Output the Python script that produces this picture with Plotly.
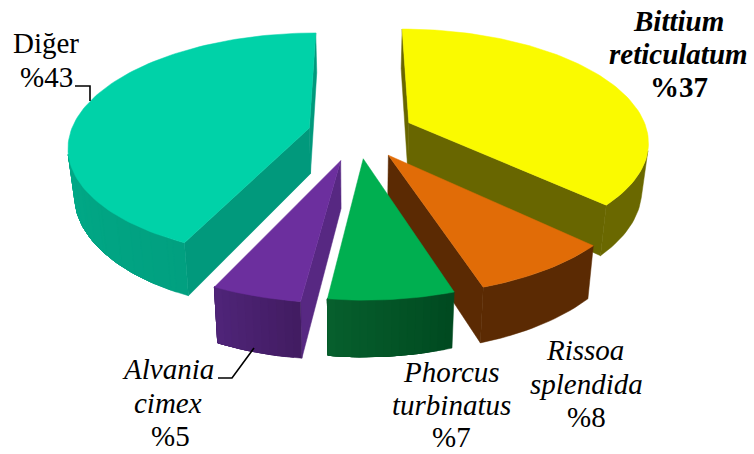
import math
import plotly.graph_objects as go

# ---- data ----
categories = ["Bittium reticulatum", "Rissoa splendida", "Phorcus turbinatus", "Alvania cimex", "Diğer"]
values = [37, 8, 7, 5, 43]

# ---- styling ----
top_colors = ["#FAFA00", "#E16C07", "#00AF50", "#6C2F9E", "#00D2A8"]
cut_colors = ["#686600", "#5B2A03", "#07602E", "#572882", "#01997C"]
rim_start = ["#6A6800", "#5B2A03", "#004A20", "#421C62", "#01A080"]
rim_end = ["#6A6800", "#5B2A03", "#07602E", "#50257A", "#02BC95"]
explode = [0.235, 0.23, 0.225, 0.25, 0.21]
draw_order = [4, 0, 1, 3, 2]

VX, CY, SX, SY, K, H, SHRINK = 358, 133, 239, 111, 0.153, 46, 0.977


def project(x, y, drop=False):
    p = 1 / (1 + K * y)
    if drop:
        return VX + SX * x * p * SHRINK, CY - SY * y * p + H * p
    return VX + SX * x * p, CY - SY * y * p


def mix(a, b, t):
    ca = [int(a[i:i + 2], 16) for i in (1, 3, 5)]
    cb = [int(b[i:i + 2], 16) for i in (1, 3, 5)]
    return "#%02X%02X%02X" % tuple(round(u + (v - u) * t) for u, v in zip(ca, cb))


def polygon(xs, ys, color):
    return go.Scatter(x=xs + xs[:1], y=ys + ys[:1], mode="lines", fill="toself",
                      fillcolor=color, line=dict(color=color, width=0.5),
                      hoverinfo="skip", showlegend=False)


def visible(a, b):
    pa, pb = project(*a), project(*b)
    qa, qb = project(*a, drop=True), project(*b, drop=True)
    xs = [pa[0], pb[0], qb[0], qa[0]]
    ys = [pa[1], pb[1], qb[1], qa[1]]
    return sum(xs[k] * ys[(k + 1) % 4] - xs[(k + 1) % 4] * ys[k] for k in range(4)) < 0


def band(points):
    upper = [project(*w) for w in points]
    lower = [project(*w, drop=True) for w in reversed(points)]
    return [u[0] for u in upper + lower], [u[1] for u in upper + lower]


fig = go.Figure()
total = sum(values)
starts = []
acc = 0
for v in values:
    starts.append(acc)
    acc += v

for i in draw_order:
    a0 = 2 * math.pi * starts[i] / total
    a1 = 2 * math.pi * (starts[i] + values[i]) / total
    mid = (a0 + a1) / 2
    ox, oy = explode[i] * math.sin(mid), explode[i] * math.cos(mid)
    n = max(4, int(math.degrees(a1 - a0) / 1.5))
    apex = (ox, oy)
    arc = [(ox + math.sin(a0 + (a1 - a0) * j / n), oy + math.cos(a0 + (a1 - a0) * j / n))
           for j in range(n + 1)]
    # the two cut faces
    for a, b in [(apex, arc[0]), (arc[-1], apex)]:
        if visible(a, b):
            xs, ys = band([a, b])
            fig.add_trace(polygon(xs, ys, cut_colors[i]))
    # the rim: every band runs to the end of the visible part, so no seams show
    shown = [j for j in range(n) if visible(arc[j], arc[j + 1])]
    last = None
    for j in shown:
        color = mix(rim_start[i], rim_end[i], j / n)
        if color != last:
            xs, ys = band(arc[j:shown[-1] + 2])
            fig.add_trace(polygon(xs, ys, color))
            last = color
    top = [project(*w) for w in [apex] + arc]
    fig.add_trace(polygon([u[0] for u in top], [u[1] for u in top], top_colors[i]))

# leader lines
for lx, ly in [([75, 90, 90], [86, 86, 101]), ([218, 232, 254], [378, 378, 348])]:
    fig.add_trace(go.Scatter(x=lx, y=ly, mode="lines", line=dict(color="black", width=1.6),
                             hoverinfo="skip", showlegend=False))

labels = [
    ("<b><i>Bittium</i></b>", 678, 21), ("<b><i>reticulatum</i></b>", 678, 54), ("<b>%37</b>", 679, 87),
    ("<i>Rissoa</i>", 585, 350), ("<i>splendida</i>", 586, 384), ("%8", 586, 417),
    ("<i>Phorcus</i>", 451, 372), ("<i>turbinatus</i>", 451, 405), ("%7", 451, 437),
    ("<i>Alvania</i>", 168, 369), ("<i>cimex</i>", 168, 403), ("%5", 170, 436),
    ("Diğer", 46, 43), ("%43", 46, 77),
]
for text, x, y in labels:
    fig.add_annotation(x=x, y=y, text=text, showarrow=False, xanchor="center", yanchor="middle",
                       font=dict(family="Liberation Serif", size=29, color="black"))

fig.update_layout(
    width=754, height=454, margin=dict(l=0, r=0, t=0, b=0),
    paper_bgcolor="white", plot_bgcolor="white", showlegend=False,
    xaxis=dict(range=[0, 754], visible=False, fixedrange=True),
    yaxis=dict(range=[454, 0], visible=False, fixedrange=True),
)
fig.write_html("out.html", config={"displayModeBar": False},
               post_script="document.body.style.margin='0';")
